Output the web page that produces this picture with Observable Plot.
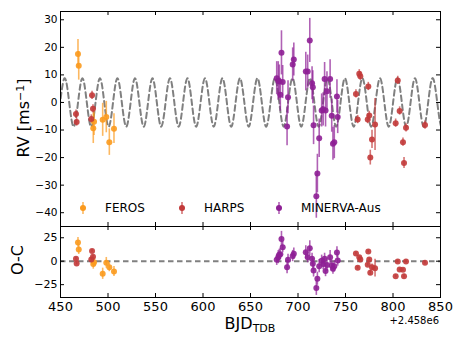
<!DOCTYPE html>
<html><head><meta charset="utf-8">
<script src="https://cdn.jsdelivr.net/npm/d3@7"></script>
<script src="https://cdn.jsdelivr.net/npm/@observablehq/plot@0.6"></script>
<style>
body{margin:0;background:#fff;font-family:"DejaVu Sans",sans-serif;}
#wrap{position:relative;width:463px;height:347px;overflow:hidden;background:#fff;}
#wrap svg.p{position:absolute;left:0;}
.lbl{position:absolute;white-space:nowrap;color:#000;font-family:"DejaVu Sans",sans-serif;line-height:1;}
</style></head><body><div id="wrap"></div>
<script>
// ---- data ----
const instruments = ["FEROS", "HARPS", "MINERVA-Aus"];
const colors = ["#fb9a1e", "#c23a3a", "#8e1f95"];

const ferosDay = [468.4, 469.2, 484.5, 485.3, 494.4, 498.2, 501.4, 506.3];
const ferosRV  = [17.6, 13.3, -9.4, -7.0, -6.3, -5.3, -14.4, -9.5];
const ferosErr = [5.2, 5.2, 5.5, 5.0, 6.0, 5.7, 4.8, 5.4];
const ferosOC  = [20, 12.4, -3, -1, -13.4, -1.7, -6.4, -11];

const harpsDay = [466.3, 467.0, 482.4, 483.2, 484.2, 761.0, 762.8, 764.5, 765.6, 773.4, 774.0, 775.0, 776.1, 777.9, 781.1, 802.8, 805.0, 807.0, 810.5, 811.6, 813.7, 833.7];
const harpsRV  = [-4.2, -7.1, -6.0, 2.6, -2.3, 3.1, -6.2, 10.4, 9.5, -6.2, 5.8, -4.7, -20.0, -13.4, -8.0, -7.5, 8.0, -3.1, -14.4, -22.0, -9.2, -8.2];
const harpsErr = [1.5, 1.5, 1.5, 1.5, 1.5, 1.5, 1.5, 1.5, 1.5, 1.5, 1.5, 1.5, 2.7, 3.3, 9.4, 1.5, 1.5, 1.5, 1.5, 2.0, 1.5, 1.5];
const harpsOC  = [2.5, -2.4, 1.8, 11, 4.7, 8.2, -7, 4.3, 1.8, -3.8, 10.3, 1.8, -12.3, -6.4, -7.4, -16, -0.3, -8.8, -9.2, -16, -0.3, -1.7];

const minervaDay = [677.6, 679.2, 680.3, 681.4, 682.6, 683.9, 688.5, 689.5, 694.4, 695.6, 708.2, 710.2, 712.4, 714.8, 715.6, 716.4, 719.3, 720.4, 722.3, 724.9, 726.5, 728.0, 729.0, 730.5, 733.8, 735.5, 736.8, 738.2, 741.0, 741.8];
const minervaRV  = [8.8, 7.8, 7.6, 2.8, 18.0, 7.4, -8.7, 1.9, 13.8, 15.6, 11.2, 11.2, 22.5, 7.0, 5.5, -8.3, -34.0, -25.8, -13.0, -2.9, -2.5, 8.5, -2.9, 4.1, 8.5, -4.8, -15.0, -14.4, 2.2, -5.3];
const minervaErr = [6, 7, 6, 6, 8, 6, 7, 6, 6, 6, 7, 6, 8, 6, 6, 7, 8, 7, 7, 6, 6, 6, 6, 7, 7, 6, 6, 6, 6, 6];
const minervaOC  = [1.5, 4.3, 6.8, 7.5, 23.8, 15.0, -6.5, 1.5, 5.5, 8.0, 9.5, 4.3, 13.8, 2.5, -2.8, -9.9, -28.5, -18.7, -5.3, 0.5, -3.0, 2.5, -10.5, -4.0, 4.3, -4.6, -8.0, -5.5, 9.3, 0.7];

// model curve: extrema (day, RV)
const modelDay = [436.3, 445.5, 454.7, 463.9, 473.1, 482.3, 491.5, 500.7, 509.9, 519.2, 528.4, 537.6, 546.8, 556.0, 565.2, 574.4, 583.6, 592.8, 602.1, 611.3, 620.5, 629.7, 638.9, 648.1, 657.3, 666.5, 675.7, 684.9, 694.2, 703.4, 712.6, 721.8, 731.0, 740.2, 749.4, 758.6, 767.8, 777.0, 786.3, 795.5, 804.7, 813.9, 823.1, 832.3, 841.5, 850.7, 859.9];
const modelRV  = [8.8, -8.8, 8.8, -8.8, 8.8, -8.8, 8.8, -8.8, 8.8, -8.8, 8.8, -8.8, 8.8, -8.8, 8.8, -8.8, 8.8, -8.8, 8.8, -8.8, 8.8, -8.8, 8.8, -8.8, 8.8, -8.8, 8.8, -8.8, 8.8, -8.8, 8.8, -8.8, 8.8, -8.8, 8.8, -8.8, 8.8, -8.8, 8.8, -8.8, 8.8, -8.8, 8.8, -8.8, 8.8, -8.8, 8.8];

const xTicks = [450, 500, 550, 600, 650, 700, 750, 800, 850];
const rvTicks = [-40, -30, -20, -10, 0, 10, 20, 30];
const ocTicks = [-25, 0, 25];
const ocZero = [0];

// ---- build tables ----
function rows(inst, day, rv, err, oc) {
  return day.map((d, i) => ({inst, day: d, rv: rv[i], err: err[i], oc: oc[i]}));
}
const sets = [
  rows("FEROS", ferosDay, ferosRV, ferosErr, ferosOC),
  rows("HARPS", harpsDay, harpsRV, harpsErr, harpsOC),
  rows("MINERVA-Aus", minervaDay, minervaRV, minervaErr, minervaOC)
];
const model = modelDay.map((d, i) => ({day: d, rv: modelRV[i]}));

const W = 463, ML = 60, MR = 23, FW = W - ML - MR;
const font = "DejaVu Sans";

function frameTicks(yT, fh) {
  return [
    Plot.tickX(xTicks, {x: d => d, insetBottom: fh - 4, stroke: "#000"}),
    Plot.tickX(xTicks, {x: d => d, insetTop: fh - 4, stroke: "#000"}),
    Plot.tickY(yT, {y: d => d, insetRight: FW - 4, stroke: "#000"}),
    Plot.tickY(yT, {y: d => d, insetLeft: FW - 4, stroke: "#000"}),
    Plot.frame({stroke: "#000", strokeWidth: 1})
  ];
}
function dataMarks(key) {
  const out = [];
  sets.forEach((s, k) => {
    out.push(Plot.ruleX(s, {x: "day", y1: d => d[key] - d.err, y2: d => d[key] + d.err, stroke: colors[k], strokeWidth: 1.6, strokeOpacity: 0.7}));
  });
  sets.forEach((s, k) => {
    out.push(Plot.dot(s, {x: "day", y: key, r: 3, fill: colors[k], fillOpacity: 0.9, stroke: "none"}));
  });
  return out;
}

// top panel
const topH = 230, topMT = 11, topMB = 4;
const topPlot = Plot.plot({
  width: W, height: topH,
  marginLeft: ML, marginRight: MR, marginTop: topMT, marginBottom: topMB,
  style: {background: "none", overflow: "visible", fontFamily: font},
  x: {domain: [450, 850], axis: null},
  y: {domain: [-45, 33]},
  marks: [
    Plot.line(model, {x: "day", y: "rv", curve: "natural", stroke: "#808080", strokeWidth: 2, strokeDasharray: "5.5,3.5", clip: true}),
    ...dataMarks("rv"),
    ...frameTicks(rvTicks, topH - topMT - topMB),
    Plot.axisY(rvTicks, {tickSize: 0, tickPadding: 3, fontSize: 10.5, label: null})
  ]
});
topPlot.classList.add("p");
topPlot.style.top = "0px";

// bottom panel
const botTop = 222, botH = 125, botMT = 4, botMB = 50;
const botPlot = Plot.plot({
  width: W, height: botH,
  marginLeft: ML, marginRight: MR, marginTop: botMT, marginBottom: botMB,
  style: {background: "none", overflow: "visible", fontFamily: font},
  x: {domain: [450, 850]},
  y: {domain: [-38.7, 37]},
  marks: [
    Plot.ruleY(ocZero, {y: d => d, stroke: "#808080", strokeWidth: 2, strokeDasharray: "5.5,3.5"}),
    ...dataMarks("oc"),
    ...frameTicks(ocTicks, botH - botMT - botMB),
    Plot.axisY(ocTicks, {tickSize: 0, tickPadding: 3, fontSize: 11, label: null}),
    Plot.axisX(xTicks, {tickSize: 0, tickPadding: 4, fontSize: 13, label: null})
  ]
});
botPlot.classList.add("p");
botPlot.style.top = botTop + "px";

const wrap = document.getElementById("wrap");
wrap.appendChild(botPlot);
wrap.appendChild(topPlot);

// labels
function addLabel(html, css) {
  const d = document.createElement("div");
  d.className = "lbl";
  d.innerHTML = html;
  Object.assign(d.style, css);
  wrap.appendChild(d);
  return d;
}
addLabel('RV [ms<sup style="font-size:11px;vertical-align:5px">−1</sup>]', {left: "23px", top: "118px", fontSize: "16px", transform: "translate(-50%,-50%) rotate(-90deg)"});
addLabel('O-C', {left: "18px", top: "260px", fontSize: "16px", transform: "translate(-50%,-50%) rotate(-90deg)"});
addLabel('BJD<sub style="font-size:11px;vertical-align:-3px">TDB</sub>', {left: "250px", top: "325px", fontSize: "16px", transform: "translate(-50%,-50%)"});
addLabel('+2.458e6', {left: "439px", top: "321px", fontSize: "10px", transform: "translate(-100%,-50%)"});

// legend
const legX = [83, 182, 279];
instruments.forEach((name, k) => {
  const m = document.createElementNS("http://www.w3.org/2000/svg", "svg");
  m.setAttribute("width", 10); m.setAttribute("height", 14);
  m.style.position = "absolute";
  m.style.left = (legX[k] - 5) + "px";
  m.style.top = (208 - 7) + "px";
  m.innerHTML = `<line x1="5" x2="5" y1="1" y2="13" stroke="${colors[k]}" stroke-width="1.6" stroke-opacity="0.7"/><circle cx="5" cy="7" r="3" fill="${colors[k]}"/>`;
  wrap.appendChild(m);
  addLabel(name, {left: (legX[k] + 22) + "px", top: "208px", fontSize: "12px", transform: "translateY(-50%)"});
});
</script>
</body></html>
